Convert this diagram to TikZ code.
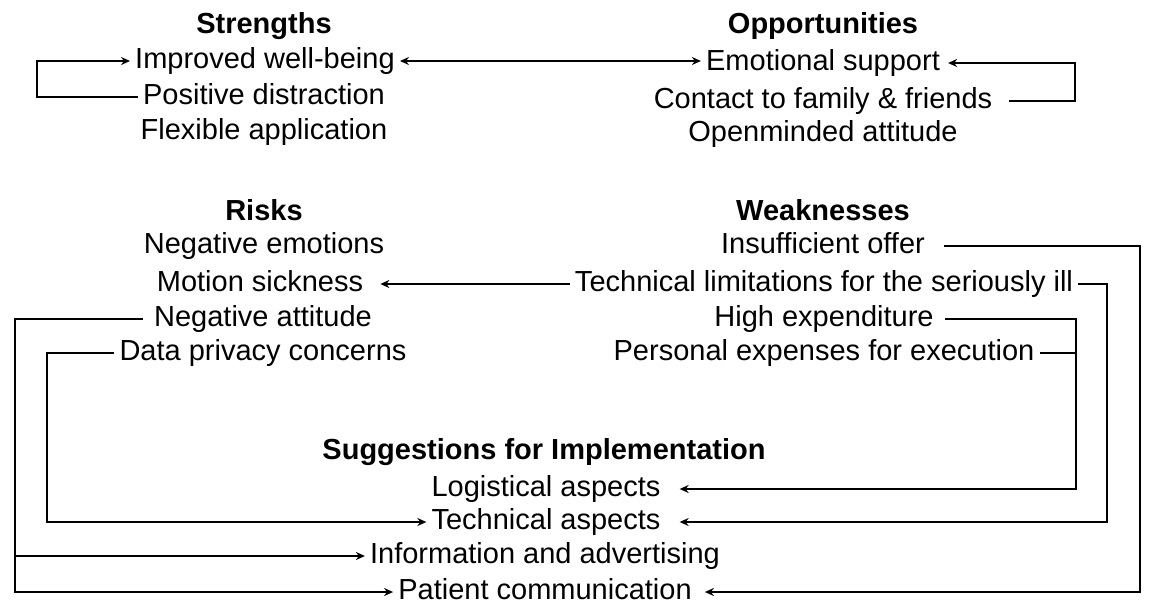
\documentclass[tikz,border=0pt]{standalone}
\usepackage{fontspec}
\setmainfont{Liberation Sans}
\usetikzlibrary{arrows.meta}
\begin{document}
\begin{tikzpicture}[x=1pt,y=-1pt,
		item/.style={font=\fontsize{29}{34}\selectfont,inner sep=0pt,inner xsep=5pt,text height=21pt,text depth=6pt},
		head/.style={item,font=\fontsize{29}{34}\selectfont\bfseries},
		link/.style={line width=1.5pt},
		arr/.style={link,-{Stealth[length=9pt,width=8pt]}}]
	\useasboundingbox (0,0) rectangle (1154,614);

	%the four quadrants and the suggestions
	\node[head] (s0) at (264,26) {Strengths};
	\node[item] (s1) at (265,61) {Improved well-being};
	\node[item] (s2) at (264,97) {Positive distraction};
	\node[item] (s3) at (264,132) {Flexible application};

	\node[head] (o0) at (823,26) {Opportunities};
	\node[item] (o1) at (823,63) {Emotional support};
	\node[item] (o2) at (823,101) {Contact to family \& friends};
	\node[item] (o3) at (823,134) {Openminded attitude};

	\node[head] (r0) at (264,213) {Risks};
	\node[item] (r1) at (264,246) {Negative emotions};
	\node[item] (r2) at (260,284) {Motion sickness};
	\node[item] (r3) at (263,319) {Negative attitude};
	\node[item] (r4) at (263,353) {Data privacy concerns};

	\node[head] (w0) at (823,213) {Weaknesses};
	\node[item] (w1) at (823,246) {Insufficient offer};
	\node[item] (w2) at (824,284) {Technical limitations for the seriously ill};
	\node[item] (w3) at (824,319) {High expenditure};
	\node[item] (w4) at (824,353) {Personal expenses for execution};

	\node[head] (i0) at (544,452) {Suggestions for Implementation};
	\node[item] (i1) at (546,489) {Logistical aspects};
	\node[item] (i2) at (546,522) {Technical aspects};
	\node[item] (i3) at (545,556) {Information and advertising};
	\node[item] (i4) at (545,592) {Patient communication};

	%vertical buses
	\coordinate (busS) at (37,0);
	\coordinate (busO) at (1075,0);
	\coordinate (busE) at (15,0);
	\coordinate (busF) at (47,0);
	\coordinate (busC) at (1076,0);
	\coordinate (busB) at (1107,0);
	\coordinate (busD) at (1140,0);

	%loops at the top
	\draw[arr] (s2.west) -| (busS |- s1) -- (s1.west);
	\draw[arr] ([xshift=12pt]o2.east) -| (busO |- o1) -- ([xshift=3pt]o1.east);
	\draw[link,{Stealth[length=9pt,width=8pt]}-{Stealth[length=9pt,width=8pt]}] (s1.east) -- (s1.east -| o1.west);

	%weaknesses
	\draw[arr] (w2.west) -- ([xshift=12pt]r2.east);
	\draw[arr] ([xshift=14pt]w1.east) -| (busD |- i4) -- ([xshift=8pt]i4.east);
	\draw[arr] (w2.east) -| (busB |- i2) -- ([xshift=14pt]i2.east);
	\draw[arr] ([xshift=6pt]w3.east) -| (busC |- i1) -- ([xshift=14pt]i1.east);
	\draw[link] (w4.east) -- (busC |- w4);

	%risks
	\draw[arr] ([xshift=-6pt]r3.west) -| (busE |- i4) -- (i4.west);
	\draw[arr] (busE |- i3) -- (i3.west);
	\draw[arr] (r4.west) -| (busF |- i2) -- (i2.west);
\end{tikzpicture}
\end{document}
